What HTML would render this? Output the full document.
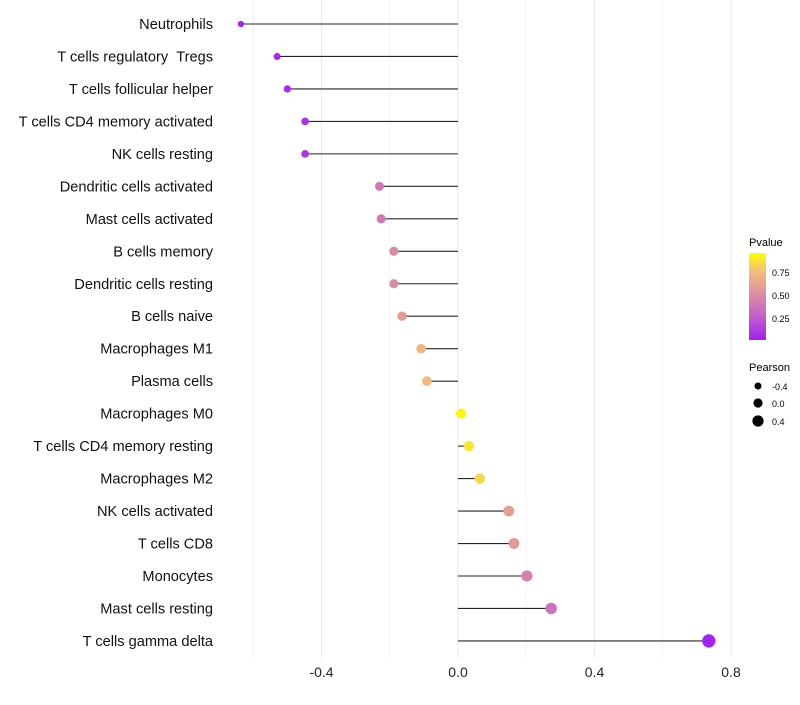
<!DOCTYPE html>
<html><head><meta charset="utf-8"><style>
body{margin:0;background:#fff;font-family:"Liberation Sans",sans-serif}
</style></head><body>
<svg id="chart" width="800" height="700" xmlns="http://www.w3.org/2000/svg" font-family="Liberation Sans, sans-serif">
<defs><linearGradient id="pg" x1="0" y1="1" x2="0" y2="0">
<stop offset="0" stop-color="#a020f0"/><stop offset="0.3" stop-color="#c466c8"/><stop offset="0.55" stop-color="#de93a0"/><stop offset="0.8" stop-color="#f2c07a"/><stop offset="1" stop-color="#ffff00"/></linearGradient></defs>
<g id="grid"></g><g id="marks"></g><g id="labels"></g>
<g>
<text x="749" y="246" font-size="11" fill="#000">Pvalue</text>
<rect x="749" y="253" width="17" height="87" fill="url(#pg)"/>
<text x="772" y="276" font-size="9">0.75</text>
<text x="772" y="299" font-size="9">0.50</text>
<text x="772" y="322" font-size="9">0.25</text>
</g>
<g>
<text x="749" y="371" font-size="11">Pearson</text>
<circle cx="758" cy="386" r="3.5"/><text x="772" y="390" font-size="9">-0.4</text>
<circle cx="758" cy="403" r="4.6"/><text x="772" y="407" font-size="9">0.0</text>
<circle cx="758" cy="421" r="5.6"/><text x="772" y="425" font-size="9">0.4</text>
</g>
</svg>
<script>
const categories=["Neutrophils","T cells regulatory\u00a0\u00a0Tregs","T cells follicular helper","T cells CD4 memory activated","NK cells resting","Dendritic cells activated","Mast cells activated","B cells memory","Dendritic cells resting","B cells naive","Macrophages M1","Plasma cells","Macrophages M0","T cells CD4 memory resting","Macrophages M2","NK cells activated","T cells CD8","Monocytes","Mast cells resting","T cells gamma delta"];
const pearson=[-0.636,-0.53,-0.50,-0.448,-0.448,-0.23,-0.225,-0.188,-0.188,-0.164,-0.108,-0.091,0.009,0.032,0.064,0.149,0.164,0.202,0.273,0.735];
const pvalue=[0.03,0.05,0.06,0.08,0.10,0.40,0.40,0.50,0.50,0.60,0.75,0.76,0.97,0.92,0.87,0.62,0.60,0.45,0.37,0.02];
const ticks=[-0.4,0.0,0.4,0.8];
const minorTicks=[-0.6,-0.2,0.2,0.6];
const NS="http://www.w3.org/2000/svg";
const x=v=>458+v*341.25;
const y=i=>24+i*32.47;
const rad=v=>Math.sqrt(Math.max(4,26+25*v));
const stops=[[0,[160,32,240]],[0.3,[196,102,200]],[0.55,[222,147,160]],[0.8,[242,192,122]],[1,[255,255,0]]];
function col(p){for(let k=1;k<stops.length;k++){if(p<=stops[k][0]){const a=stops[k-1],b=stops[k],t=(p-a[0])/(b[0]-a[0]);return "rgb("+a[1].map((c,j)=>Math.round(c+(b[1][j]-c)*t)).join(",")+")";}}return "rgb(255,255,0)";}
function mk(t,at,parent){const e=document.createElementNS(NS,t);for(const k in at)e.setAttribute(k,at[k]);parent.appendChild(e);return e;}
const G=document.getElementById("grid"),M=document.getElementById("marks"),L=document.getElementById("labels");
minorTicks.forEach(v=>{const l=mk("line",{x1:x(v),x2:x(v),y1:0,y2:658,stroke:"#f3f3f3","stroke-width":1},G);

});
ticks.forEach(v=>{const l=mk("line",{x1:x(v),x2:x(v),y1:0,y2:658,stroke:"#ebebeb","stroke-width":1},G);


const t=mk("text",{x:x(v),y:677,"font-size":14,"text-anchor":"middle",fill:"#222"},L);t.textContent=(v===0?"0.0":v.toFixed(1));

});
categories.forEach((c,i)=>{
const ln=mk("line",{x1:x(0),x2:x(pearson[i]),y1:y(i),y2:y(i),stroke:"#000","stroke-opacity":0.85,"stroke-width":1.1},M);


const ci=mk("circle",{cx:x(pearson[i]),cy:y(i),r:rad(pearson[i]),fill:col(pvalue[i])},M);


const t=mk("text",{x:213,y:y(i)+5,"font-size":14.6,"text-anchor":"end",fill:"#111"},L);t.textContent=c;


});
</script>
</body></html>
